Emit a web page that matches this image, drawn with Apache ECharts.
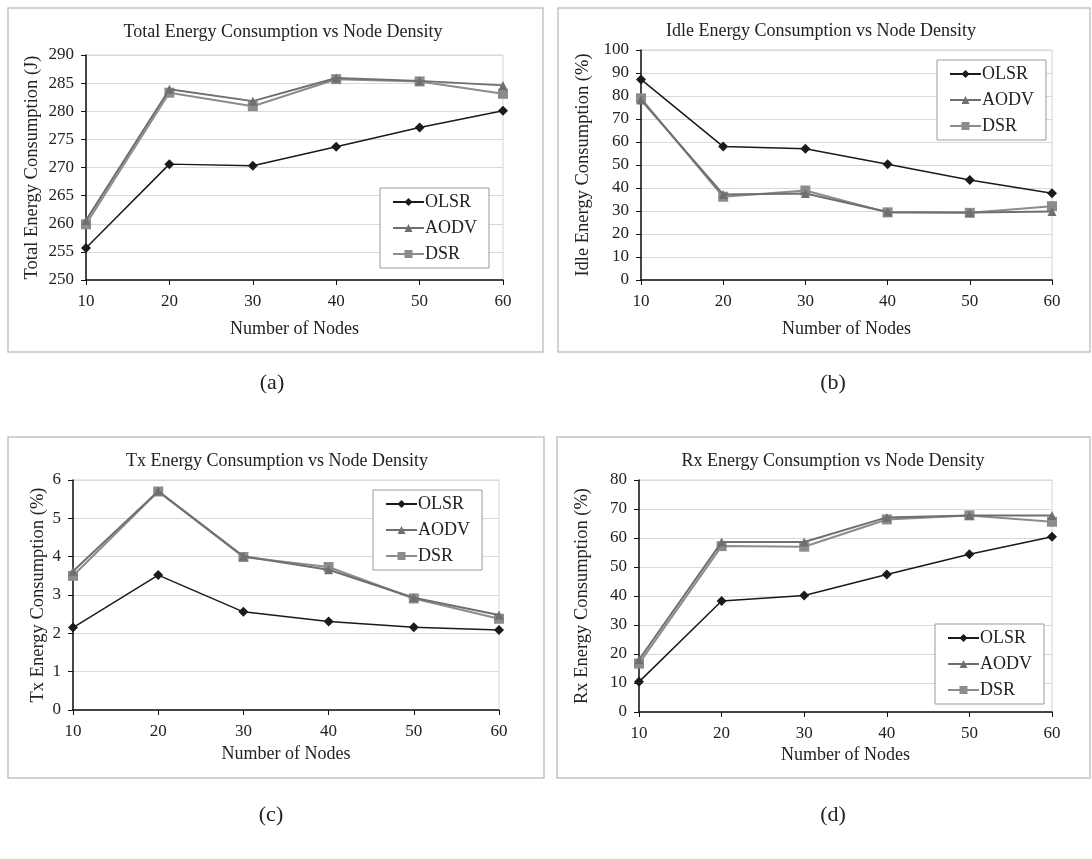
<!DOCTYPE html>
<html>
<head>
<meta charset="utf-8">
<script src="https://cdn.jsdelivr.net/npm/echarts@6/dist/echarts.min.js"></script>
<style>
  html, body { margin: 0; padding: 0; background: #fff; }
  #chart { width: 1092px; height: 859px; }
</style>
</head>
<body>
<div id="chart"></div>
<script>
// Number of nodes on the x axis
const nodes = [10, 20, 30, 40, 50, 60];
const protocols = ['OLSR', 'AODV', 'DSR'];

// (a) Total energy consumption (J)
const totalOLSR = [255.7, 270.6, 270.3, 273.7, 277.1, 280.1];
const totalAODV = [260.6, 283.9, 281.8, 285.9, 285.4, 284.6];
const totalDSR  = [259.9, 283.3, 280.9, 285.7, 285.3, 283.1];

// (b) Idle energy consumption (%)
const idleOLSR = [87.2, 58.0, 57.1, 50.3, 43.5, 37.7];
const idleAODV = [78.3, 37.2, 37.6, 29.6, 29.4, 29.8];
const idleDSR  = [79.0, 36.2, 38.9, 29.4, 29.2, 32.1];

// (c) Tx energy consumption (%)
const txOLSR = [2.15, 3.52, 2.56, 2.31, 2.16, 2.09];
const txAODV = [3.62, 5.71, 4.01, 3.66, 2.93, 2.48];
const txDSR  = [3.50, 5.70, 3.99, 3.73, 2.91, 2.38];

// (d) Rx energy consumption (%)
const rxOLSR = [10.4, 38.3, 40.2, 47.4, 54.4, 60.4];
const rxAODV = [18.0, 58.6, 58.6, 67.1, 67.8, 67.8];
const rxDSR  = [16.7, 57.2, 57.0, 66.4, 67.8, 65.6];

const panelTitles = [
  'Total Energy Consumption vs Node Density',
  'Idle Energy Consumption vs Node Density',
  'Tx Energy Consumption vs Node Density',
  'Rx Energy Consumption vs Node Density'
];
const yNames = [
  'Total Energy Consumption (J)',
  'Idle Energy Consumption (%)',
  'Tx Energy Consumption (%)',
  'Rx Energy Consumption (%)'
];
const captions = ['(a)', '(b)', '(c)', '(d)'];
const yRanges = [[250, 290, 5], [0, 100, 10], [0, 6, 1], [0, 80, 10]];
const panelData = [
  [totalOLSR, totalAODV, totalDSR],
  [idleOLSR, idleAODV, idleDSR],
  [txOLSR, txAODV, txDSR],
  [rxOLSR, rxAODV, rxDSR]
];

const FONT = 'Liberation Serif';
const TXT = '#222';

// layout of each panel
const grids = [
  { left: 86, top: 55, width: 417, height: 225 },
  { left: 641, top: 50, width: 411, height: 230 },
  { left: 73, top: 480, width: 426, height: 230 },
  { left: 639, top: 480, width: 413, height: 232 }
];
const frames = [
  { x: 8, y: 8, width: 535, height: 344 },
  { x: 558, y: 8, width: 532, height: 344 },
  { x: 8, y: 437, width: 536, height: 341 },
  { x: 557, y: 437, width: 533, height: 341 }
];
const titlePos = [[278, 18], [816, 17], [272, 447], [828, 447]];
const captionPos = [[272, 383], [833, 383], [271, 815], [833, 815]];
const legendPos = [[380, 188], [937, 60], [373, 490], [935, 624]];
const yNameGap = [44, 48, 25, 47];
const xNameGap = [40, 40, 35, 34];

const seriesStyle = {
  OLSR: { color: '#1a1a1a', symbol: 'diamond', symbolSize: 10, width: 1.5 },
  AODV: { color: '#6f6f6f', symbol: 'triangle', symbolSize: 9, width: 2 },
  DSR:  { color: '#8c8c8c', symbol: 'rect', symbolSize: 10, width: 2 }
};

const option = {
  backgroundColor: '#fff',
  animation: false,
  textStyle: { fontFamily: FONT },
  title: panelTitles.map((t, i) => ({
    text: t,
    left: titlePos[i][0],
    top: titlePos[i][1],
    textAlign: 'center',
    textStyle: { fontFamily: FONT, fontSize: 18, fontWeight: 'normal', color: TXT }
  })),
  grid: grids.map(g => Object.assign({
    show: true, borderColor: '#d4d4d4', borderWidth: 1, backgroundColor: 'transparent'
  }, g)),
  legend: legendPos.map(p => ({
    data: protocols,
    orient: 'vertical',
    left: p[0],
    top: p[1],
    padding: [5, 12, 5, 12],
    itemGap: 8,
    itemWidth: 31,
    itemHeight: 10,
    borderColor: '#9a9a9a',
    borderWidth: 1,
    backgroundColor: '#fff',
    textStyle: { fontFamily: FONT, fontSize: 18, color: TXT, padding: [0, 0, 0, -4] }
  })),
  xAxis: grids.map((g, i) => ({
    gridIndex: i,
    type: 'value',
    min: 10, max: 60, interval: 10,
    name: 'Number of Nodes',
    nameLocation: 'middle',
    nameGap: xNameGap[i],
    nameTextStyle: { fontFamily: FONT, fontSize: 18, color: TXT },
    axisLine: { show: true, lineStyle: { color: '#111', width: 1.5 } },
    axisTick: { show: true, length: 5, lineStyle: { color: '#111' } },
    axisLabel: { fontFamily: FONT, fontSize: 17, color: TXT, margin: 13 },
    splitLine: { show: false }
  })),
  yAxis: yRanges.map((r, i) => ({
    gridIndex: i,
    type: 'value',
    min: r[0], max: r[1], interval: r[2],
    name: yNames[i],
    nameLocation: 'middle',
    nameGap: yNameGap[i],
    nameTextStyle: { fontFamily: FONT, fontSize: 18.5, color: TXT },
    axisLine: { show: true, lineStyle: { color: '#111', width: 1.5 } },
    axisTick: { show: true, length: 5, lineStyle: { color: '#111' } },
    axisLabel: { fontFamily: FONT, fontSize: 17, color: TXT, margin: 12 },
    splitLine: { show: true, lineStyle: { color: '#d9d9d9', width: 1 } }
  })),
  series: [],
  graphic: []
};

// three protocol lines per panel
panelData.forEach((sets, i) => {
  sets.forEach((vals, k) => {
    const name = protocols[k];
    const st = seriesStyle[name];
    option.series.push({
      name: name,
      type: 'line',
      xAxisIndex: i,
      yAxisIndex: i,
      data: nodes.map((n, j) => [n, vals[j]]),
      symbol: st.symbol,
      symbolSize: st.symbolSize,
      showAllSymbol: true,
      z: 10 - k,
      itemStyle: { color: st.color },
      lineStyle: { color: st.color, width: st.width }
    });
  });
});

// panel frames and sub-figure captions
frames.forEach(f => {
  option.graphic.push({
    type: 'rect', shape: f, silent: true, z: -10,
    style: { fill: 'none', stroke: '#c4c4c4', lineWidth: 1.5 }
  });
});
captions.forEach((c, i) => {
  option.graphic.push({
    type: 'text', x: captionPos[i][0], y: captionPos[i][1], silent: true,
    style: {
      text: c, fontFamily: FONT, fontSize: 22, fill: TXT,
      align: 'center', verticalAlign: 'middle'
    }
  });
});

const chart = echarts.init(document.getElementById('chart'), null, { renderer: 'canvas' });
chart.setOption(option);
</script>
</body>
</html>
